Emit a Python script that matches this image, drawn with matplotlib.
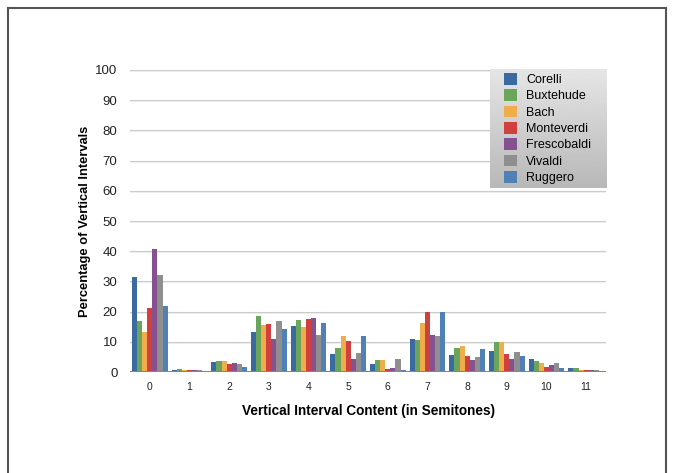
import numpy as np
import matplotlib
matplotlib.use('Agg')
import matplotlib.pyplot as plt
from matplotlib.lines import Line2D

plt.rcParams['font.family'] = ['Liberation Sans', 'DejaVu Sans']

# interval classes (semitones)
intervals = [0, 1, 2, 3, 4, 5, 6, 7, 8, 9, 10, 11]

composers = ['Corelli', 'Buxtehude', 'Bach', 'Monteverdi', 'Frescobaldi', 'Vivaldi', 'Ruggero']
colors = ['#3b6aa0', '#6aa55b', '#efae4b', '#cf403e', '#86518f', '#8f8f8f', '#4f80b6']

corelli     = [31.6, 0.6, 3.2, 13.1, 15.1, 5.8, 2.6, 10.9, 5.6, 6.9, 4.2, 1.2]
buxtehude   = [16.8, 0.9, 3.5, 18.4, 17.1, 7.8, 3.9, 10.6, 7.9, 9.9, 3.6, 1.2]
bach        = [13.1, 0.6, 3.5, 15.4, 14.8, 11.8, 3.9, 16.2, 8.6, 9.9, 2.9, 0.6]
monteverdi  = [21.1, 0.6, 2.5, 15.8, 17.4, 10.1, 0.9, 20.0, 5.2, 5.9, 1.6, 0.6]
frescobaldi = [40.6, 0.6, 2.9, 10.8, 17.8, 4.2, 1.2, 12.2, 3.9, 4.2, 2.2, 0.6]
vivaldi     = [32.0, 0.6, 2.5, 16.8, 12.1, 6.2, 4.2, 11.9, 4.9, 6.6, 2.9, 0.6]
ruggero     = [22.0, 0.3, 1.5, 14.4, 16.1, 11.9, 0.6, 20.0, 7.6, 5.2, 1.2, 0.3]

series = [corelli, buxtehude, bach, monteverdi, frescobaldi, vivaldi, ruggero]

fig = plt.figure(figsize=(6.75, 4.73), dpi=100)
ax = fig.add_axes([130 / 675, 1 - 372 / 473, 476 / 675, 302 / 473])

x = np.arange(len(intervals))
w = 0.9 / len(series)
for i, (vals, name, c) in enumerate(zip(series, composers, colors)):
    ax.bar(x - 0.45 + w * (i + 0.5), vals, width=w, color=c, label=name, zorder=3)

ax.set_xlim(-0.5, len(intervals) - 0.5)
ax.set_ylim(0, 100)
ax.set_yticks(range(0, 101, 10))
ax.set_xticks(x)
ax.set_xticklabels([str(v) for v in intervals])
ax.tick_params(axis='both', length=0)
ax.tick_params(axis='y', labelsize=9.5, pad=9, colors='#222222')
ax.tick_params(axis='x', labelsize=7.5, pad=7, colors='#222222')

# gridlines with a soft shadow
for yv in range(10, 101, 10):
    ax.axhline(yv - 0.35, color='#ececec', lw=1.2, zorder=1)
    ax.axhline(yv, color='#cbcbcb', lw=0.8, zorder=2)
ax.axhline(0, color='#858585', lw=2.2, zorder=4)

for s in ax.spines.values():
    s.set_visible(False)

ax.set_ylabel('Percentage of Vertical Intervals', fontsize=9.3, fontweight='bold', labelpad=3)
ax.set_xlabel('Vertical Interval Content (in Semitones)', fontsize=9.8, fontweight='bold', labelpad=9)

# legend on a grey gradient box
lax = fig.add_axes([490 / 675, 1 - 188 / 473, 117 / 675, 119 / 473], zorder=5)
grad = np.linspace(0.90, 0.72, 100).reshape(-1, 1)
lax.imshow(grad, aspect='auto', cmap='gray', vmin=0, vmax=1, extent=[0, 1, 0, 1])
lax.set_axis_off()
handles, labels = ax.get_legend_handles_labels()
leg = lax.legend(handles, labels, loc='center left', frameon=False, fontsize=9,
                 handlelength=1.05, handleheight=1.05, handletextpad=0.75,
                 labelspacing=0.26, borderaxespad=0.7)

# outer frame
fig.add_artist(Line2D([8 / 675, 8 / 675], [0, 1 - 8 / 473], color='#555555', lw=1.5))
fig.add_artist(Line2D([666 / 675, 666 / 675], [0, 1 - 8 / 473], color='#555555', lw=1.5))
fig.add_artist(Line2D([8 / 675, 666 / 675], [1 - 8 / 473, 1 - 8 / 473], color='#555555', lw=1.5))

fig.savefig('out.png', dpi=100)
